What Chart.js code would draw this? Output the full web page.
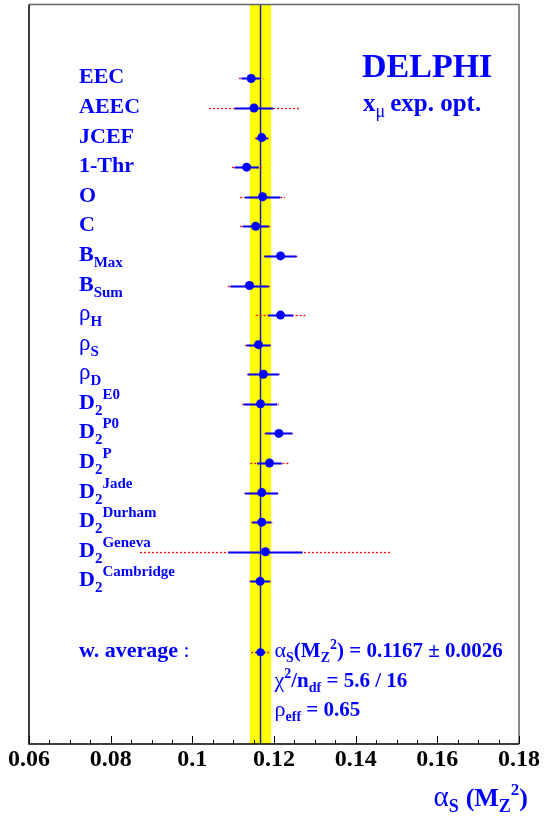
<!DOCTYPE html>
<html><head><meta charset="utf-8">
<script src="https://cdn.jsdelivr.net/npm/chart.js@4/dist/chart.umd.min.js"></script>
<style>html,body{margin:0;padding:0;background:#fff;}#wrap{width:544px;height:816px;position:relative}</style>
</head><body><div id="wrap"><canvas id="c" width="544" height="816"></canvas></div>
<script>
// ---- data ----
const observables  = ["EEC","AEEC","JCEF","1-Thr","O","C","B","B","ρ","ρ","ρ","D","D","D","D","D","D","D"];
const subscripts   = ["","","","","","","Max","Sum","H","S","D","2","2","2","2","2","2","2"];
const superscripts = ["","","","","","","","","","","","E0","P0","P","Jade","Durham","Geneva","Cambridge"];
const alphaS   = [0.1144,0.1151,0.1170,0.1133,0.1172,0.1155,0.1216,0.1140,0.1216,0.1162,0.1174,0.1167,0.1212,0.1189,0.1170,0.1170,0.1179,0.1166];
const innerErr = [0.0024,0.0047,0.0014,0.0030,0.0043,0.0032,0.0039,0.0047,0.0031,0.0029,0.0038,0.0041,0.0033,0.0030,0.0040,0.0023,0.0091,0.0024];
const outerErr = [0.0030,0.0110,0.0017,0.0036,0.0055,0.0038,0.0041,0.0053,0.0061,0.0033,0.0040,0.0045,0.0035,0.0047,0.0043,0.0026,0.0307,0.0026];
const avgValue = 0.1167, avgErr = 0.0026, avgInner = 0.0012, avgOuter = 0.0023, avgRow = 19.4;
const chi2 = "5.6", ndf = "16", rhoEff = "0.65";
const xTickLabels = [0.06,0.08,0.10,0.12,0.14,0.16,0.18];
const xMinorStep = 0.005;

const BLUE = '#0000ff';
const SERIF = '"Liberation Serif","Times New Roman",serif';
const fMain = 'bold 22px ' + SERIF;
const fSmall = 'bold 15px ' + SERIF;
const fGreek = '23px ' + SERIF;
const fRes = 'bold 21px ' + SERIF;
const fResSmall = 'bold 14px ' + SERIF;
const fResGreek = '22px ' + SERIF;

function drawRich(ctx, x, y, parts, align) {
  ctx.save();
  ctx.textBaseline = 'alphabetic';
  ctx.textAlign = 'left';
  let w = 0;
  for (const p of parts) { ctx.font = p.f; w += ctx.measureText(p.t).width + (p.gap||0); }
  let cx = align === 'right' ? x - w : x;
  for (const p of parts) {
    ctx.font = p.f;
    ctx.fillText(p.t, cx, y + (p.dy||0));
    cx += ctx.measureText(p.t).width + (p.gap||0);
  }
  ctx.restore();
  return w;
}

const deco = {
  id: 'deco',
  beforeDatasetsDraw(chart) {
    const {ctx, chartArea: a, scales: {x, y}} = chart;
    ctx.save();
    // yellow band
    ctx.fillStyle = '#ffff00';
    const bl = x.getPixelForValue(avgValue - avgErr), br = x.getPixelForValue(avgValue + avgErr);
    ctx.fillRect(bl, a.top, br - bl, a.bottom - a.top);
    // average line
    ctx.strokeStyle = '#20209a'; ctx.lineWidth = 1.5;
    const ax = x.getPixelForValue(avgValue);
    ctx.beginPath(); ctx.moveTo(ax, a.top); ctx.lineTo(ax, a.bottom); ctx.stroke();
    // error bars
    const bars = alphaS.map((v, i) => ({v, i, inn: innerErr[i], out: outerErr[i]}));
    bars.push({v: avgValue, i: avgRow, inn: avgInner, out: avgOuter});
    for (const b of bars) {
      const py = Math.round(y.getPixelForValue(b.i)) + 0.5;
      ctx.strokeStyle = '#ff0000'; ctx.lineWidth = 1.3; ctx.setLineDash([2, 2]);
      ctx.beginPath(); ctx.moveTo(x.getPixelForValue(b.v - b.out), py); ctx.lineTo(x.getPixelForValue(b.v + b.out), py); ctx.stroke();
      ctx.setLineDash([]);
      ctx.strokeStyle = BLUE; ctx.lineWidth = 2;
      ctx.beginPath(); ctx.moveTo(x.getPixelForValue(b.v - b.inn), py); ctx.lineTo(x.getPixelForValue(b.v + b.inn), py); ctx.stroke();
    }
    ctx.restore();
  },
  afterDraw(chart) {
    const {ctx, chartArea: a, scales: {x, y}} = chart;
    ctx.save();
    // frame
    ctx.lineWidth = 1.5;
    ctx.strokeStyle = '#666';
    ctx.beginPath(); ctx.moveTo(a.left, a.top); ctx.lineTo(a.right, a.top); ctx.lineTo(a.right, a.bottom); ctx.stroke();
    ctx.strokeStyle = '#000';
    ctx.beginPath(); ctx.moveTo(a.left, a.top); ctx.lineTo(a.left, a.bottom); ctx.lineTo(a.right, a.bottom); ctx.stroke();
    // ticks
    ctx.lineWidth = 1;
    const n = Math.round((xTickLabels[xTickLabels.length-1] - xTickLabels[0]) / xMinorStep);
    for (let k = 0; k <= n; k++) {
      const v = xTickLabels[0] + k * xMinorStep;
      const px = Math.round(x.getPixelForValue(v)) + 0.5;
      const major = k % 4 === 0;
      ctx.beginPath(); ctx.moveTo(px, a.bottom); ctx.lineTo(px, a.bottom - (major ? 8 : 4)); ctx.stroke();
    }
    // tick labels
    ctx.fillStyle = '#000'; ctx.font = 'bold 24px ' + SERIF; ctx.textAlign = 'center'; ctx.textBaseline = 'alphabetic';
    for (const v of xTickLabels) ctx.fillText(String(+v.toFixed(3)), x.getPixelForValue(v), a.bottom + 22);
    // axis title
    ctx.fillStyle = BLUE;
    drawRich(ctx, 528, 806, [
      {t: 'α', f: '29px ' + SERIF},
      {t: 'S', f: 'bold 18px ' + SERIF, dy: 6, gap: 7},
      {t: '(M', f: 'bold 26px ' + SERIF},
      {t: 'Z', f: 'bold 18px ' + SERIF, dy: 6},
      {t: '2', f: 'bold 17px ' + SERIF, dy: -11},
      {t: ')', f: 'bold 26px ' + SERIF}
    ], 'right');
    // row labels
    const lx = a.left + 50;
    observables.forEach((name, i) => {
      const by = y.getPixelForValue(i) + 5;
      const greek = name === 'ρ';
      const parts = [{t: name, f: greek ? fGreek : fMain}];
      if (subscripts[i]) parts.push({t: subscripts[i], f: fSmall, dy: 6});
      if (superscripts[i]) parts.push({t: superscripts[i], f: fSmall, dy: -10});
      drawRich(ctx, lx, by, parts);
    });
    // average label & results
    const ay = y.getPixelForValue(avgRow) + 5;
    drawRich(ctx, lx, ay, [{t: 'w. average', f: fMain}, {t: ' :', f: '22px ' + SERIF}]);
    const tx = x.getPixelForValue(avgValue) + 14;
    drawRich(ctx, tx, ay, [
      {t: 'α', f: fResGreek}, {t: 'S', f: fResSmall, dy: 5},
      {t: '(M', f: fRes}, {t: 'Z', f: fResSmall, dy: 5}, {t: '2', f: fResSmall, dy: -8},
      {t: ') = ' + avgValue.toFixed(4) + ' ± ' + avgErr.toFixed(4), f: fRes}
    ]);
    drawRich(ctx, tx, ay + 29.5, [
      {t: 'χ', f: fResGreek}, {t: '2', f: fResSmall, dy: -9},
      {t: '/n', f: fRes}, {t: 'df', f: fResSmall, dy: 5},
      {t: ' = ' + chi2 + ' / ' + ndf, f: fRes}
    ]);
    drawRich(ctx, tx, ay + 59, [
      {t: 'ρ', f: fResGreek}, {t: 'eff', f: fResSmall, dy: 5},
      {t: ' = ' + rhoEff, f: fRes}
    ]);
    // experiment label
    drawRich(ctx, 362, 77, [{t: 'DELPHI', f: 'bold 34px ' + SERIF}]);
    drawRich(ctx, 363, 111, [
      {t: 'x', f: 'bold 25px ' + SERIF},
      {t: 'μ', f: '18px ' + SERIF, dy: 6, gap: 5},
      {t: 'exp. opt.', f: 'bold 25px ' + SERIF}
    ]);
    ctx.restore();
  }
};

new Chart(document.getElementById('c'), {
  type: 'scatter',
  data: {
    datasets: [
      {data: alphaS.map((v, i) => ({x: v, y: i})), pointRadius: 4.5, pointHoverRadius: 4.5, backgroundColor: BLUE, borderWidth: 0},
      {data: [{x: avgValue, y: avgRow}], pointRadius: 4, backgroundColor: BLUE, borderWidth: 0}
    ]
  },
  options: {
    responsive: false, animation: false, devicePixelRatio: 1,
    layout: {padding: {left: 29, right: 25, top: 3, bottom: 72}},
    plugins: {legend: {display: false}, tooltip: {enabled: false}},
    scales: {
      x: {type: 'linear', min: 0.06, max: 0.18, display: false},
      y: {type: 'linear', min: -2.5, max: 22.5, reverse: true, display: false}
    }
  },
  plugins: [deco]
});
</script></body></html>
